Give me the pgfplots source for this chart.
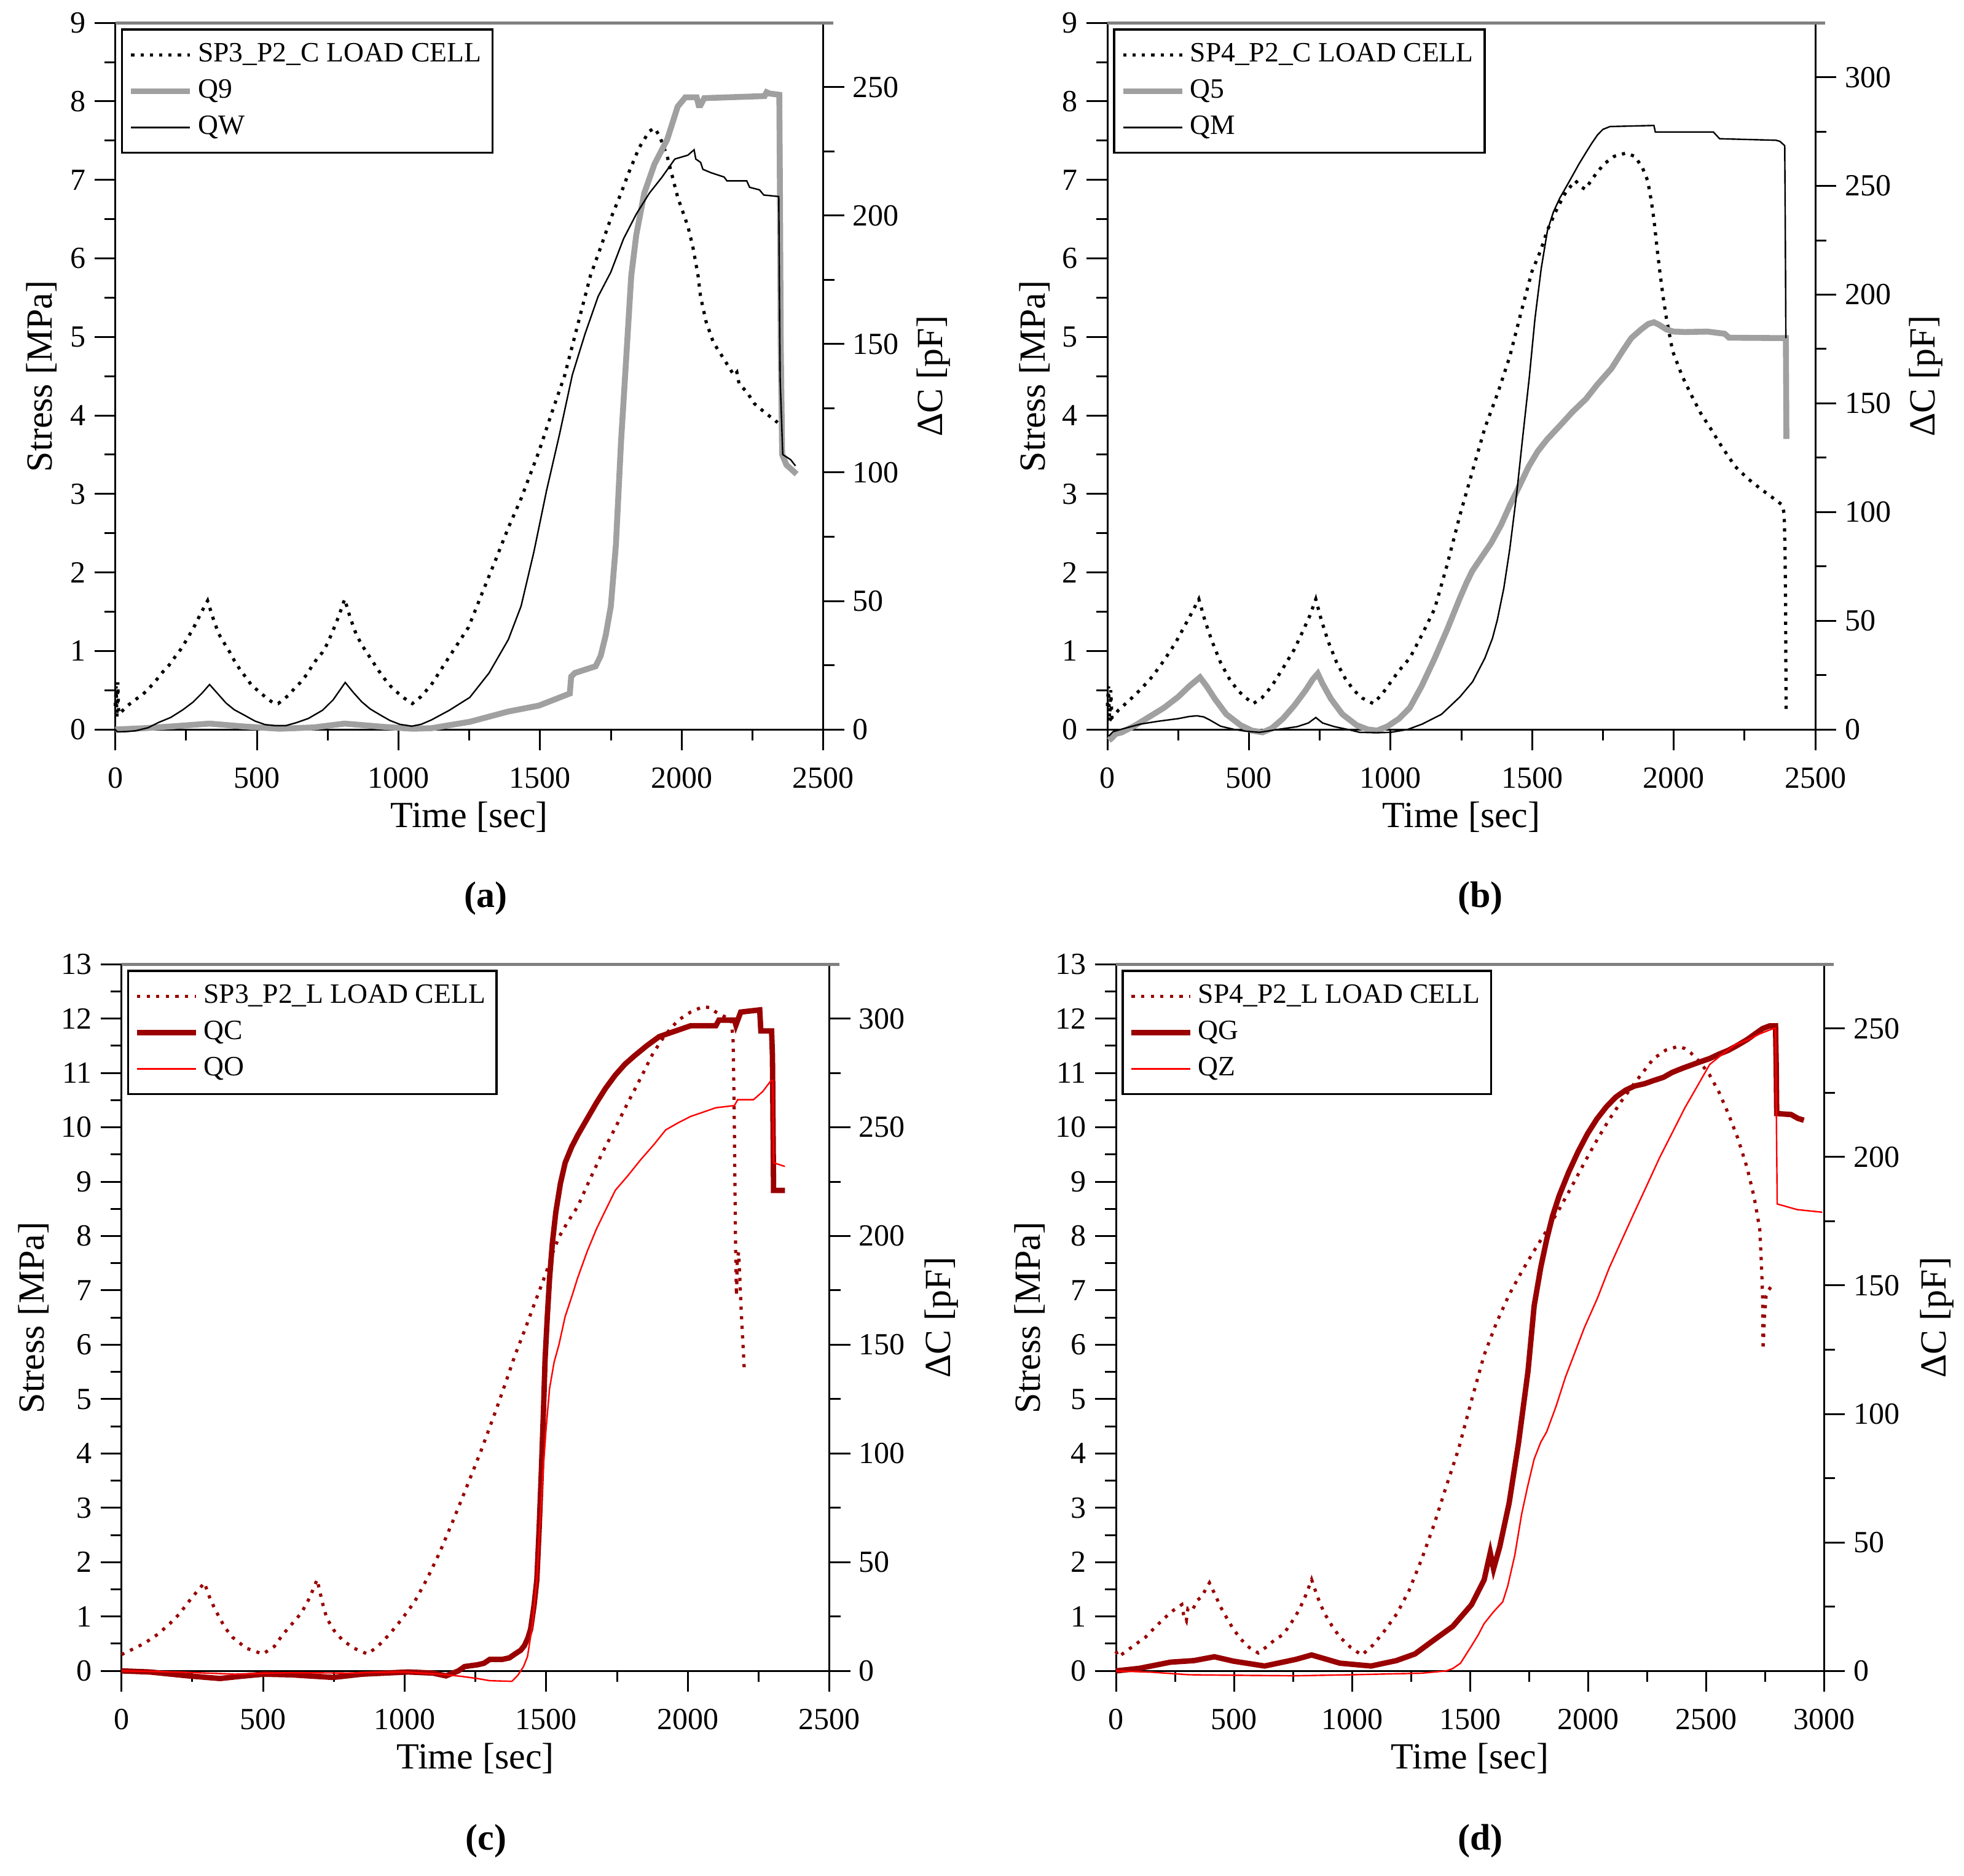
\documentclass[border=0pt]{standalone}
\usepackage{pgfplots}
\pgfplotsset{compat=1.18}
\usepackage{fontspec}
\setmainfont{Liberation Serif}
\definecolor{dred}{HTML}{990000}
\definecolor{qg}{HTML}{A0A0A0}
\definecolor{topg}{HTML}{808080}
\pgfplotsset{
  legend image code/.code={\draw[#1] (0pt,0pt) -- (24pt,0pt);},
  common/.style={
    scale only axis, width=288pt, height=287.5pt, anchor=south west, clip=false,
    xmin=0, ymin=0,
    axis line style={black, line width=0.75pt},
    tick align=outside,
    major tick length=8.5pt, minor tick length=4.5pt,
    every tick/.style={black, line width=0.75pt},
    scaled ticks=false,
    /pgf/number format/assume math mode=true,
    /pgf/number format/1000 sep={},
    tick label style={font=\fontsize{12.5}{14}\selectfont},
    xticklabel style={yshift=-3.5pt},
    label style={font=\fontsize{15}{17}\selectfont},
  },
  leftax/.style={common,
    xtick pos=lower, ytick pos=left,
    minor x tick num=1, minor y tick num=1,
    xlabel={Time [sec]}, ylabel={Stress [MPa]},
    xlabel style={at={(axis description cs:0.5,-0.124)}, anchor=center},
  },
  rightax/.style={common,
    axis x line=none, axis y line*=right, ytick pos=right,
    minor y tick num=1,
    ylabel={ΔC [pF]},
    ylabel style={at={(axis description cs:1.156,0.5)}, anchor=center},
    legend cell align=left,
    legend style={at={(axis description cs:0.008,0.992)}, anchor=north west,
      draw=black, line width=0.9pt, fill=white, inner xsep=2.5pt, inner ysep=3pt,
      row sep=0.3pt, font=\fontsize{11.4}{13}\selectfont,
      nodes={inner sep=2pt, text height=8pt, text depth=2.5pt}},
  },
  loadblack/.style={black, line width=1.3pt, dash pattern=on 1.3pt off 2.5pt},
  q9/.style={qg, line width=2.4pt},
  qthin/.style={black, line width=0.6pt},
  loadred/.style={dred, line width=1.3pt, dash pattern=on 1.3pt off 2.6pt},
  qthick/.style={dred, line width=2.2pt},
  qred/.style={red, line width=0.6pt},
}
\begin{document}
\begin{tikzpicture}
\useasboundingbox (0,0) rectangle (799pt,763pt);
% ---------------- (a)
\begin{axis}[leftax, at={(46.9pt,466.2pt)}, xmax=2500, ymax=9,
  xtick={0,500,...,2500}, ytick={0,...,9},
  ylabel style={at={(axis description cs:-0.104,0.5)}, anchor=center}]
\addplot[loadblack] coordinates {(0,0.3) (3,0.55) (6,0.15) (9,0.6) (12,0.2) (20,0.22) (42,0.30) (71,0.38) (98,0.45) (123,0.54) (145,0.63) (167,0.73) (190,0.82) (210,0.92) (231,1.02) (255,1.16) (280,1.32) (305,1.5) (326,1.64) (345,1.42) (365,1.22) (388,1.08) (405,0.98) (420,0.88) (441,0.76) (460,0.67) (482,0.56) (502,0.50) (528,0.42) (557,0.34) (575,0.33) (586,0.36) (613,0.44) (632,0.52) (654,0.60) (676,0.70) (695,0.81) (714,0.91) (731,0.98) (750,1.1) (770,1.27) (790,1.45) (810,1.66) (830,1.42) (850,1.22) (870,1.08) (890,0.97) (910,0.86) (930,0.75) (950,0.65) (970,0.56) (990,0.49) (1020,0.40) (1049,0.33) (1080,0.42) (1116,0.57) (1180,0.93) (1247,1.30) (1297,1.75) (1342,2.15) (1388,2.57) (1433,2.94) (1496,3.54) (1542,4.04) (1587,4.51) (1632,5.14) (1678,5.78) (1714,6.14) (1750,6.51) (1786,6.83) (1813,7.09) (1850,7.41) (1886,7.62) (1904,7.66) (1922,7.56) (1949,7.30) (1986,6.78) (2022,6.41) (2040,6.14) (2058,5.78) (2067,5.51) (2086,5.2) (2112,4.93) (2149,4.72) (2185,4.51) (2195,4.55) (2203,4.40) (2230,4.30) (2257,4.15) (2293,4.04) (2339,3.91)};
\end{axis}
\begin{axis}[rightax, at={(46.9pt,466.2pt)}, xmax=2500, ymax=275, ytick={0,50,...,250}]
\addlegendimage{loadblack}\addlegendentry{SP3\_P2\_C LOAD CELL}
\addplot[q9] coordinates {(0,0) (100,0.5) (200,1.2) (333,2.3) (450,1.2) (580,0.3) (700,0.8) (810,2.3) (950,1) (1050,0.3) (1116,0.5) (1252,3) (1388,7) (1496,9.3) (1605,14) (1610,20.6) (1623,22) (1696,24.6) (1714,28.6) (1732,36.7) (1750,48) (1768,72) (1786,112) (1804,144) (1822,176.5) (1840,192.6) (1868,208.7) (1904,220) (1949,229.6) (1986,242.4) (2013,246) (2053,246) (2060,243) (2067,243) (2080,245.7) (2293,246.5) (2300,248) (2310,247.5) (2345,247) (2347,212) (2350,150) (2355,107) (2370,103) (2406,99.4)};
\addlegendentry{Q9}
\addplot[qthin] coordinates {(0,0) (7,-0.9) (40,-0.8) (72,-0.5) (116,0.7) (152,2.7) (196,4.7) (239,7.7) (275,10.7) (305,14.0) (333,17.5) (362,13.9) (391,10.3) (420,7.7) (457,5.5) (493,3.3) (529,1.9) (566,1.5) (602,1.5) (638,2.6) (682,4.3) (732,7.5) (769,11.5) (812,18.3) (840,14.5) (870,10.8) (900,8) (935,5.7) (970,3.5) (1005,2.0) (1047,1.3) (1080,2) (1116,3.7) (1180,7.5) (1252,12.5) (1320,22) (1388,35) (1433,48) (1478,69) (1523,93) (1569,115) (1614,138) (1659,154) (1705,168.5) (1750,178) (1795,191) (1840,200.6) (1886,208.7) (1931,215) (1976,222) (2022,223.5) (2044,225.6) (2050,222) (2067,220.7) (2075,218) (2103,216.7) (2150,215) (2160,213.5) (2230,213.5) (2240,211) (2275,210) (2290,208) (2343,207.4) (2346,160) (2348,136) (2357,107) (2385,105) (2402,102.6)};
\addlegendentry{QW}
\draw[topg, line width=1.3pt] (rel axis cs:0,1) -- (rel axis cs:1.014,1);
\end{axis}
% ---------------- (b)
\begin{axis}[leftax, at={(450.5pt,466.2pt)}, xmax=2500, ymax=9,
  xtick={0,500,...,2500}, ytick={0,...,9},
  ylabel style={at={(axis description cs:-0.103,0.5)}, anchor=center}]
\addplot[loadblack] coordinates {(0,0.3) (4,0.55) (8,0.1) (12,0.5) (16,0.15) (40,0.25) (80,0.38) (120,0.52) (160,0.68) (200,0.88) (240,1.1) (270,1.3) (300,1.5) (323,1.66) (345,1.38) (370,1.12) (400,0.85) (430,0.65) (460,0.5) (490,0.4) (515,0.33) (545,0.4) (580,0.55) (620,0.78) (660,1.02) (690,1.25) (715,1.45) (736,1.66) (755,1.4) (780,1.12) (810,0.85) (840,0.65) (870,0.5) (900,0.4) (939,0.33) (970,0.45) (1000,0.6) (1030,0.75) (1068,0.91) (1110,1.2) (1156,1.54) (1200,2.1) (1245,2.73) (1290,3.3) (1333,3.84) (1380,4.3) (1421,4.75) (1460,5.3) (1499,5.83) (1530,6.1) (1554,6.36) (1590,6.65) (1620,6.85) (1653,6.99) (1670,6.92) (1687,6.88) (1720,7.05) (1753,7.2) (1790,7.3) (1830,7.34) (1863,7.30) (1890,7.15) (1908,6.99) (1920,6.75) (1930,6.5) (1942,6.1) (1952,5.8) (1963,5.5) (1974,5.24) (1996,4.82) (2030,4.5) (2062,4.26) (2095,4.03) (2129,3.84) (2170,3.6) (2217,3.35) (2260,3.2) (2305,3.07) (2350,2.95) (2383,2.86) (2390,2.75) (2393,2.3) (2395,1.6) (2396,0.8) (2397,0.21)};
\end{axis}
\begin{axis}[rightax, at={(450.5pt,466.2pt)}, xmax=2500, ymax=325, ytick={0,50,...,300}]
\addlegendimage{loadblack}\addlegendentry{SP4\_P2\_C LOAD CELL}
\addplot[q9] coordinates {(5,-5) (15,-4) (30,-2) (51,-1.3) (100,2) (150,6) (200,10) (250,15) (290,20) (327,24) (350,20) (380,14) (420,7) (470,2) (510,-0.5) (548,-1.3) (580,0.5) (620,5) (660,11) (700,18) (725,23) (743,25.7) (760,21) (790,14) (830,7) (880,2) (920,0) (953,-0.5) (990,1.5) (1030,5) (1068,10) (1110,20) (1156,32.8) (1200,46) (1245,60.5) (1270,68) (1289,73) (1320,79) (1355,85.7) (1390,94) (1421,103) (1455,112) (1488,121) (1520,128) (1554,133.6) (1600,140) (1642,146) (1690,152) (1731,158.8) (1780,166) (1819,174) (1850,180) (1885,184) (1910,186.5) (1930,187.3) (1950,186) (1974,184) (2000,183) (2040,182.8) (2120,183) (2180,182) (2195,180.2) (2396,180) (2398,133.6)};
\addlegendentry{Q5}
\addplot[qthin] coordinates {(5,-3) (20,-1) (60,0.5) (117,2.5) (180,3.8) (250,5) (290,6) (316,6.3) (340,5.8) (360,4.5) (400,1.5) (449,0) (490,-0.8) (537,-1.3) (600,0) (670,1.3) (710,3) (736,5.5) (760,3) (802,1.3) (850,0) (891,-1.3) (950,-1.5) (1001,-1.3) (1060,0) (1112,2.5) (1180,7) (1245,15) (1290,22) (1333,32.8) (1360,42) (1377,50.4) (1400,65) (1421,83) (1445,108) (1466,133.6) (1490,162) (1510,189) (1532,212) (1554,229.4) (1575,238) (1598,244.5) (1620,249.5) (1642,254.6) (1665,260) (1687,264.7) (1710,269.5) (1731,273.5) (1750,276) (1775,277.3) (1930,277.8) (1935,274.8) (2140,274.8) (2162,271.7) (2361,271) (2375,270.5) (2392,268.5) (2394,230) (2396,180)};
\addlegendentry{QM}
\draw[topg, line width=1.3pt] (rel axis cs:0,1) -- (rel axis cs:1.014,1);
\end{axis}
% ---------------- (c)
\begin{axis}[leftax, at={(49.4pt,83.2pt)}, xmax=2500, ymax=13,
  xtick={0,500,...,2500}, ytick={0,...,13},
  ylabel style={at={(axis description cs:-0.124,0.5)}, anchor=center}]
\addplot[loadred] coordinates {(0,0.3) (40,0.4) (82,0.51) (130,0.68) (171,0.87) (205,1.05) (237,1.27) (265,1.45) (293,1.62) (315,1.3) (337,1.07) (365,0.8) (392,0.62) (440,0.42) (499,0.31) (540,0.45) (570,0.67) (600,0.85) (636,1.07) (665,1.35) (691,1.68) (710,1.25) (725,0.97) (750,0.75) (780,0.57) (820,0.42) (869,0.31) (905,0.45) (946,0.67) (990,0.95) (1035,1.27) (1080,1.7) (1124,2.18) (1170,2.75) (1212,3.29) (1270,4.05) (1323,4.80) (1360,5.35) (1390,5.81) (1425,6.28) (1456,6.72) (1480,7.05) (1500,7.33) (1520,7.65) (1545,7.98) (1575,8.25) (1611,8.54) (1655,9.05) (1700,9.55) (1745,10.0) (1789,10.46) (1833,10.9) (1877,11.36) (1920,11.7) (1966,11.97) (2010,12.12) (2054,12.22) (2080,12.2) (2099,12.12) (2125,12.05) (2154,11.97) (2160,11.6) (2164,10.25) (2167,8.7) (2169,7.73) (2172,6.9) (2175,7.6) (2180,7.7) (2184,7.2) (2188,6.7) (2192,6.3) (2196,5.9) (2200,5.5)};
\end{axis}
\begin{axis}[rightax, at={(49.4pt,83.2pt)}, xmax=2500, ymax=325, ytick={0,50,...,300},
  ylabel style={at={(axis description cs:1.158,0.5)}}]
\addlegendimage{loadred}\addlegendentry{SP3\_P2\_L LOAD CELL}
\addplot[qthick] coordinates {(0,0) (100,-0.5) (237,-2.3) (348,-3.5) (420,-2.5) (503,-1.5) (600,-1.8) (747,-3) (850,-1.5) (1013,-0.5) (1100,-1) (1146,-2.3) (1190,0) (1212,2) (1257,2.8) (1280,3.5) (1301,5.3) (1345,5.3) (1370,6) (1390,7.8) (1410,9.5) (1423,11.6) (1435,15) (1445,19.2) (1457,30) (1467,41.9) (1475,65) (1483,92) (1490,118) (1496,143) (1504,163) (1512,180.7) (1522,197) (1534,211) (1550,224) (1567,233.7) (1590,241) (1611,246.3) (1645,254) (1678,261.4) (1710,268) (1744,274) (1778,279) (1811,282.8) (1855,287.5) (1899,291.7) (1950,294) (2010,296.7) (2099,296.7) (2110,299.3) (2165,299.3) (2170,297) (2187,303) (2254,304) (2258,294.3) (2296,294.3) (2299,283) (2303,221) (2343,221)};
\addlegendentry{QC}
\addplot[qred] coordinates {(0,0) (200,-0.5) (400,-1.5) (600,-0.8) (800,-1) (1000,-0.5) (1124,-1.5) (1200,-2.5) (1257,-3.5) (1300,-4.5) (1379,-4.8) (1400,-2) (1420,2) (1434,6.6) (1450,20) (1467,42) (1478,68) (1489,92) (1500,112) (1512,130) (1528,142) (1545,150) (1567,163) (1590,172) (1611,180.7) (1645,193) (1678,203.4) (1710,212) (1744,221) (1790,228) (1833,235) (1880,242) (1922,248.8) (1965,252) (2010,255) (2055,257) (2099,259) (2165,260) (2176,262.7) (2232,262.7) (2265,266.5) (2294,271.5) (2300,271.5) (2303,233.7) (2343,232)};
\addlegendentry{QO}
\draw[topg, line width=1.3pt] (rel axis cs:0,1) -- (rel axis cs:1.014,1);
\end{axis}
% ---------------- (d)
\begin{axis}[leftax, at={(454.0pt,83.2pt)}, xmax=3000, ymax=13,
  xtick={0,500,...,3000}, ytick={0,...,13},
  ylabel style={at={(axis description cs:-0.122,0.5)}, anchor=center}]
\addplot[loadred] coordinates {(0,0.36) (10,0.26) (40,0.35) (80,0.48) (125,0.62) (165,0.8) (205,0.97) (245,1.12) (279,1.22) (288,1.0) (298,0.92) (305,1.15) (324,1.12) (345,1.3) (364,1.37) (380,1.5) (396,1.62) (420,1.4) (444,1.17) (470,0.97) (497,0.77) (530,0.58) (565,0.43) (603,0.33) (640,0.45) (675,0.58) (709,0.67) (745,0.9) (776,1.12) (805,1.4) (829,1.68) (855,1.35) (882,1.07) (915,0.83) (949,0.62) (995,0.43) (1042,0.29) (1090,0.48) (1135,0.72) (1190,1.05) (1241,1.47) (1295,2.05) (1347,2.68) (1400,3.4) (1453,4.10) (1505,4.95) (1560,5.81) (1612,6.4) (1666,6.92) (1720,7.35) (1772,7.73) (1825,8.1) (1878,8.49) (1930,8.9) (1985,9.35) (2040,9.78) (2091,10.15) (2145,10.5) (2197,10.81) (2240,11.05) (2277,11.26) (2330,11.42) (2383,11.49) (2410,11.45) (2436,11.37) (2475,11.2) (2516,10.96) (2555,10.65) (2595,10.25) (2635,9.8) (2675,9.25) (2705,8.7) (2728,8.13) (2735,7.5) (2740,6.92) (2742,5.91) (2748,6.5) (2755,6.9) (2765,7.0) (2776,7.07)};
\end{axis}
\begin{axis}[rightax, at={(454.0pt,83.2pt)}, xmax=3000, ymax=275, ytick={0,50,...,250},
  ylabel style={at={(axis description cs:1.16,0.5)}}]
\addlegendimage{loadred}\addlegendentry{SP4\_P2\_L LOAD CELL}
\addplot[qthick] coordinates {(0,0) (100,1) (231,3.4) (330,4) (417,5.5) (497,3.8) (630,1.9) (763,4.5) (829,6.2) (949,3) (1081,1.9) (1188,4) (1267,6.6) (1347,12) (1427,17.3) (1507,25.8) (1560,35.4) (1586,46) (1600,39.7) (1610,43) (1626,48.2) (1666,65.3) (1706,88.8) (1746,116.6) (1772,142) (1800,157) (1825,167.8) (1850,177) (1878,184.9) (1918,194) (1958,202) (1998,209) (2038,214.8) (2078,219.5) (2118,223.3) (2160,226) (2197,227.6) (2240,228.5) (2277,229.7) (2320,231) (2357,232.9) (2400,234.5) (2436,235.7) (2475,237) (2516,238.3) (2555,240) (2595,241.5) (2635,243.5) (2675,245.7) (2710,248) (2741,250) (2770,251) (2795,251) (2798,235) (2800,216.9) (2861,216.5) (2890,215) (2915,214.3)};
\addlegendentry{QG}
\addplot[qred] coordinates {(0,0) (150,-0.5) (311,-1.5) (500,-1.7) (763,-1.9) (1000,-1.5) (1294,-0.9) (1400,0) (1427,0.9) (1460,3) (1507,9.8) (1535,14) (1560,18.4) (1600,23) (1639,26.9) (1660,33) (1690,45) (1719,61) (1745,72) (1772,82.4) (1800,89) (1825,93) (1865,103) (1905,114.4) (1945,124) (1985,133.6) (2040,145) (2091,157) (2145,168) (2197,178.5) (2250,189) (2304,199.8) (2355,209) (2410,219) (2460,227) (2516,236) (2570,240) (2622,243.6) (2675,245.5) (2728,247.9) (2786,250) (2795,250) (2802,181.7) (2887,179.5) (2993,178.5)};
\addlegendentry{QZ}
\draw[topg, line width=1.3pt] (rel axis cs:0,1) -- (rel axis cs:1.014,1);
\end{axis}
% panel labels
\node[font=\bfseries\fontsize{15}{17}\selectfont] at (197.7pt,397.6pt) {(a)};
\node[font=\bfseries\fontsize{15}{17}\selectfont] at (602.3pt,397.6pt) {(b)};
\node[font=\bfseries\fontsize{15}{17}\selectfont] at (197.7pt,13.9pt) {(c)};
\node[font=\bfseries\fontsize{15}{17}\selectfont] at (602.3pt,13.9pt) {(d)};
\end{tikzpicture}
\end{document}
